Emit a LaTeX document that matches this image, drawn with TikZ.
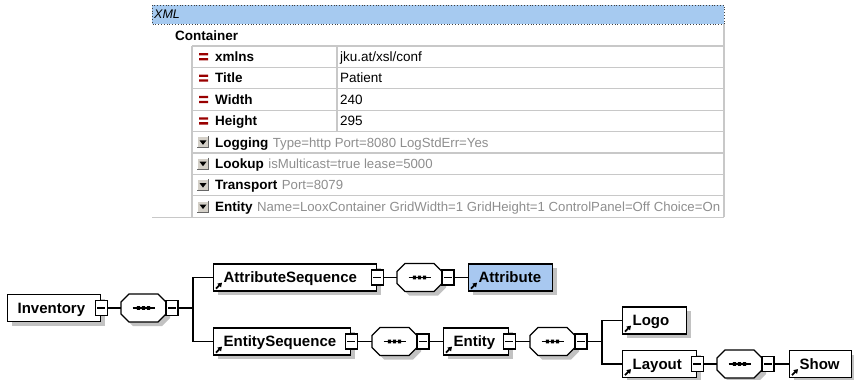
\documentclass[tikz,border=0pt]{standalone}
\usepackage{fontspec}
\setmainfont{Liberation Sans}
\usetikzlibrary{arrows.meta,shadows,calc}
\definecolor{bandblue}{HTML}{A6CAF0}
\definecolor{attrblue}{HTML}{A8C8F0}
\definecolor{gridgray}{HTML}{C8C8C8}
\definecolor{valgray}{HTML}{8E8E8E}
\definecolor{eqred}{HTML}{990000}
\definecolor{shadowgray}{HTML}{C2C2C2}
\definecolor{btngray}{HTML}{D4D0C8}
\newcommand\octo[3]{%
  \fill[shadowgray,shift={(#2+4,#3+4)}] (-14.5,-14) -- (14.5,-14) -- (22.5,-6) -- (22.5,6) -- (14.5,14) -- (-14.5,14) -- (-22.5,6) -- (-22.5,-6) -- cycle;
  \draw[line width=1.2pt,fill=white,shift={(#2,#3)}] (-14.5,-14) -- (14.5,-14) -- (22.5,-6) -- (22.5,6) -- (14.5,14) -- (-14.5,14) -- (-22.5,6) -- (-22.5,-6) -- cycle;
  \draw[line width=1.1pt,shift={(#2,#3)}] (-11,0) -- (11,0);
  \fill[shift={(#2,#3)}] (-6.7,-1.8) rectangle (-3.3,1.8) (-1.7,-1.8) rectangle (1.7,1.8) (3.3,-1.8) rectangle (6.7,1.8);
  \node[octn] (#1) at (#2,#3) {};
  \node[minbox] (#1-m) at (#2+28.5,#3) {};
}
\newcommand\refarr[1]{\draw[line width=1.8pt,-{Triangle[length=4pt,width=5pt]}] ($(#1.south west)+(3,-3)$) -- ++(6,-6);}
\newcommand\eqicon[1]{\fill[eqred] (199,#1-3.6) rectangle (208,#1-1.3) (199,#1+1.3) rectangle (208,#1+3.6);}
\newcommand\btnicon[1]{%
  \fill[btngray] (197,#1-6) rectangle (209,#1+6);
  \draw[white,line width=0.8pt] (197.4,#1+5.6) -- (197.4,#1-5.6) -- (208.6,#1-5.6);
  \draw[black!60,line width=0.9pt] (208.6,#1-6) -- (208.6,#1+5.6) -- (197,#1+5.6);
  \fill (199.5,#1-2) -- (206.5,#1-2) -- (203,#1+2.5) -- cycle;}
\begin{document}
\begin{tikzpicture}[x=1pt,y=-1pt,
 conn/.style={line width=1.2pt},
 gridln/.style={gridgray,line width=1.2pt},
 tbox/.style={draw,line width=1.3pt,fill=white,
   drop shadow={shadow xshift=4pt,shadow yshift=-4pt,fill=shadowgray,opacity=1},
   inner xsep=10pt,inner ysep=0pt,minimum height=27pt,align=left,
   text height=12.7pt,text depth=2pt,
   font=\fontsize{15}{15}\selectfont\bfseries,anchor=west},
 minbox/.style={draw,line width=1.2pt,fill=white,minimum width=12pt,minimum height=15pt,inner sep=0pt,
   path picture={\draw[line width=1.1pt] ([xshift=2pt]path picture bounding box.west) -- ([xshift=-2pt]path picture bounding box.east);}},
 octn/.style={minimum width=45pt,minimum height=28pt,inner sep=0pt},
 tname/.style={anchor=base west,inner sep=0pt,font=\fontsize{13.5}{13.5}\selectfont\bfseries},
 tval/.style={anchor=base west,inner sep=0pt,font=\fontsize{13.5}{13.5}\selectfont},
 gtxt/.style={font=\fontsize{13.2}{13.2}\selectfont\mdseries,text=valgray},
]
\useasboundingbox (0,0) rectangle (854,380);
% ---------- table ----------
\fill[bandblue] (152,5) rectangle (724,24);
\draw[black!75,line width=0.8pt,dotted] (152,5) rectangle (724,24);
\node[anchor=base west,inner sep=0pt,font=\fontsize{12.5}{12.5}\selectfont\itshape] (xmlh) at (154,19) {XML};
\node[tname] (cont) at (175,40) {Container};
\foreach \i in {0,...,8} \draw[gridln] (192,46+21.4*\i) -- (724,46+21.4*\i);
\draw[gridln] (192,46) -- (192,217.2);
\draw[gridln] (337,46) -- (337,131.6);
\draw[gridln] (724,24) -- (724,217.2);
\draw[gridln] (152,217.2) -- (724,217.2);
\eqicon{56.7}\eqicon{78.1}\eqicon{99.5}\eqicon{120.9}
\node[tname] (n1) at (215,61.5) {xmlns};
\node[tval] (v1) at (340,61.5) {jku.at/xsl/conf};
\node[tname] (n2) at (215,82.9) {Title};
\node[tval] (v2) at (340,82.9) {Patient};
\node[tname] (n3) at (215,104.3) {Width};
\node[tval] (v3) at (340,104.3) {240};
\node[tname] (n4) at (215,125.7) {Height};
\node[tval] (v4) at (340,125.7) {295};
\btnicon{142.3}\btnicon{163.7}\btnicon{185.1}\btnicon{206.5}
\node[tname] (n5) at (215,147.1) {Logging};
\node[tval,gtxt] (g5) at ([xshift=4pt]n5.base east) {Type=http Port=8080 LogStdErr=Yes};
\node[tname] (n6) at (215,168.5) {Lookup};
\node[tval,gtxt] (g6) at ([xshift=4pt]n6.base east) {isMulticast=true lease=5000};
\node[tname] (n7) at (215,189.9) {Transport};
\node[tval,gtxt] (g7) at ([xshift=4pt]n7.base east) {Port=8079};
\node[tname] (n8) at (215,211.3) {Entity};
\node[tval,gtxt] (g8) at ([xshift=4pt]n8.base east) {Name=LooxContainer GridWidth=1 GridHeight=1 ControlPanel=Off Choice=On};
% ---------- schema diagram ----------
\node[tbox,text width=73pt] (inv) at (7,308) {Inventory};
\node[minbox] (inv-m) at (inv.east) {};
\octo{o1}{143.5}{308}
\coordinate (br1) at (193,308);
\node[tbox,text width=143pt] (as) at (213,277.5) {AttributeSequence};
\node[minbox] (as-m) at (as.east) {};
\refarr{as}
\octo{o2}{419.5}{277.5}
\node[tbox,text width=64pt,fill=attrblue] (attr) at (468,277.5) {Attribute};
\refarr{attr}
\node[tbox,text width=117pt] (es) at (213,341.5) {EntitySequence};
\node[minbox] (es-m) at (es.east) {};
\refarr{es}
\octo{o3}{394.5}{341.5}
\node[tbox,text width=45pt] (ent) at (443,341.5) {Entity};
\node[minbox] (ent-m) at (ent.east) {};
\refarr{ent}
\octo{o4}{552.5}{341.5}
\coordinate (br2) at (602,341.5);
\node[tbox,text width=44pt] (logo) at (622,320.5) {Logo};
\refarr{logo}
\node[tbox,text width=54pt] (lay) at (622,364) {Layout};
\node[minbox] (lay-m) at (lay.east) {};
\refarr{lay}
\octo{o5}{739.5}{364}
\node[tbox,text width=42pt] (show) at (789,364) {Show};
\refarr{show}
% connectors
\draw[conn] (inv-m.east) -- (o1.west);
\draw[conn] (o1-m.east) -- (br1);
\draw[conn] (br1) |- (as.west);
\draw[conn] (br1) |- (es.west);
\draw[conn] (as-m.east) -- (o2.west);
\draw[conn] (o2-m.east) -- (attr.west);
\draw[conn] (es-m.east) -- (o3.west);
\draw[conn] (o3-m.east) -- (ent.west);
\draw[conn] (ent-m.east) -- (o4.west);
\draw[conn] (o4-m.east) -- (br2);
\draw[conn] (br2) |- (logo.west);
\draw[conn] (br2) |- (lay.west);
\draw[conn] (lay-m.east) -- (o5.west);
\draw[conn] (o5-m.east) -- (show.west);
\end{tikzpicture}
\end{document}
